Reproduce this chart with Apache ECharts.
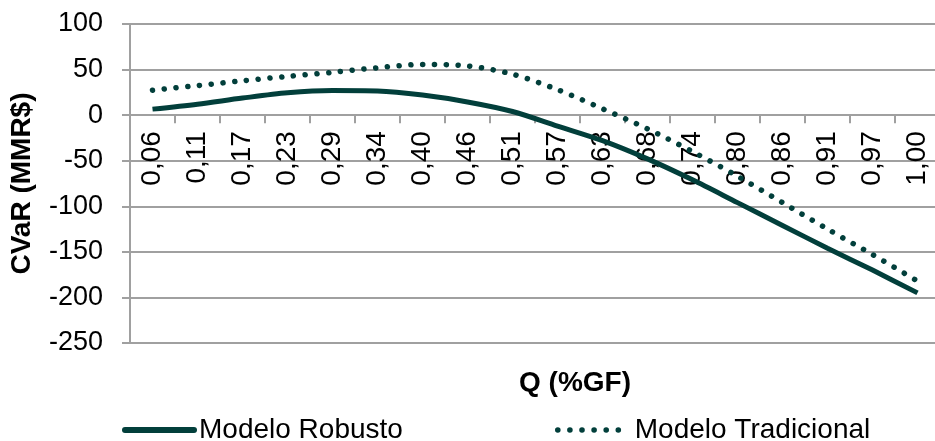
<!DOCTYPE html>
<html>
<head>
<meta charset="utf-8">
<title>CVaR x Q</title>
<script src="https://cdn.jsdelivr.net/npm/echarts@6/dist/echarts.min.js"></script>
<style>
  html, body { margin: 0; padding: 0; background: #ffffff; }
  #chart { width: 935px; height: 441px; }
</style>
</head>
<body>
<div id="chart"></div>
<script>
// Q (%GF) categories along the x axis
const categories = ['0,06', '0,11', '0,17', '0,23', '0,29', '0,34', '0,40', '0,46', '0,51',
                    '0,57', '0,63', '0,68', '0,74', '0,80', '0,86', '0,91', '0,97', '1,00'];

// CVaR (MMR$) per model
const robusto = [6.6, 12, 18.7, 24.5, 27, 26.5, 22, 14.5, 4, -12, -28, -48, -71, -96, -121, -146, -170, -195];
const tradicional = [27.4, 32.4, 37.7, 42.5, 47, 52, 55.6, 54, 45, 28, 7, -15, -40, -67, -96, -125, -153, -182];

const seriesNames = ['Modelo Robusto', 'Modelo Tradicional'];
const yMin = -250, yMax = 100, yStep = 50;

const FONT = '"Liberation Sans", Arial, sans-serif';
const INK = '#023f3b';
const GRID = '#a0a0a0';

// plot box (px)
const PLOT_TOP = 24, PLOT_BOTTOM = 98, PLOT_H = 441 - PLOT_TOP - PLOT_BOTTOM;
// the category axis sits on the zero line
const zeroOffset = -PLOT_H * (0 - yMin) / (yMax - yMin);

const dotted = { color: INK, width: 5.5, type: [0.1, 11.7], cap: 'round' };
const solid = { color: INK, width: 5, type: 'solid', cap: 'butt' };

const chart = echarts.init(document.getElementById('chart'), null, { renderer: 'canvas' });

chart.setOption({
  animation: false,
  backgroundColor: '#ffffff',
  grid: { left: 130, right: -5, top: PLOT_TOP, bottom: PLOT_BOTTOM, containLabel: false, outerBoundsMode: 'none' },
  xAxis: {
    type: 'category',
    data: categories,
    boundaryGap: true,
    position: 'bottom',
    offset: zeroOffset,
    name: 'Q (%GF)',
    nameLocation: 'middle',
    nameGap: 254,
    nameMoveOverlap: false,
    nameTextStyle: { fontFamily: FONT, fontSize: 28, fontWeight: 'bold', color: '#000', padding: [0, 0, 0, 80] },
    axisLine: { onZero: false, lineStyle: { color: GRID, width: 2 } },
    axisTick: { show: true, alignWithLabel: false, length: 8, lineStyle: { color: GRID, width: 2 } },
    axisLabel: { rotate: 90, margin: 16, fontFamily: FONT, fontSize: 28, color: '#000', interval: 0 },
    splitLine: { show: false }
  },
  yAxis: {
    type: 'value',
    min: yMin,
    max: yMax,
    interval: yStep,
    name: 'CVaR (MMR$)',
    nameLocation: 'middle',
    nameGap: 94,
    nameTextStyle: { fontFamily: FONT, fontSize: 28, fontWeight: 'bold', color: '#000' },
    axisLine: { show: true, lineStyle: { color: GRID, width: 2 } },
    axisTick: { show: true, length: 8, lineStyle: { color: GRID, width: 2 } },
    axisLabel: { margin: 27, fontFamily: FONT, fontSize: 27, color: '#000' },
    splitLine: { show: true, lineStyle: { color: GRID, width: 2 } }
  },
  legend: [
    {
      id: 'legRobusto',
      data: [seriesNames[0]],
      left: 117, top: 411,
      itemWidth: 69, itemHeight: 14,
      itemStyle: { opacity: 0 },
      lineStyle: { color: INK, width: 6, type: 'solid', cap: 'round' },
      textStyle: { fontFamily: FONT, fontSize: 28, color: '#000' }
    },
    {
      id: 'legTradicional',
      data: [seriesNames[1]],
      left: 550, top: 411,
      itemWidth: 70, itemHeight: 14,
      itemStyle: { opacity: 0 },
      lineStyle: { color: INK, width: 5.5, type: [0.1, 12], cap: 'round' },
      textStyle: { fontFamily: FONT, fontSize: 28, color: '#000', padding: [0, 0, 0, 2] }
    }
  ],
  series: [
    {
      name: seriesNames[0],
      type: 'line',
      data: robusto,
      smooth: 0.3,
      symbol: 'none',
      lineStyle: solid,
      itemStyle: { color: INK },
      z: 3
    },
    {
      name: seriesNames[1],
      type: 'line',
      data: tradicional,
      smooth: 0.3,
      symbol: 'none',
      lineStyle: dotted,
      itemStyle: { color: INK },
      z: 3
    }
  ]
});
</script>
</body>
</html>
